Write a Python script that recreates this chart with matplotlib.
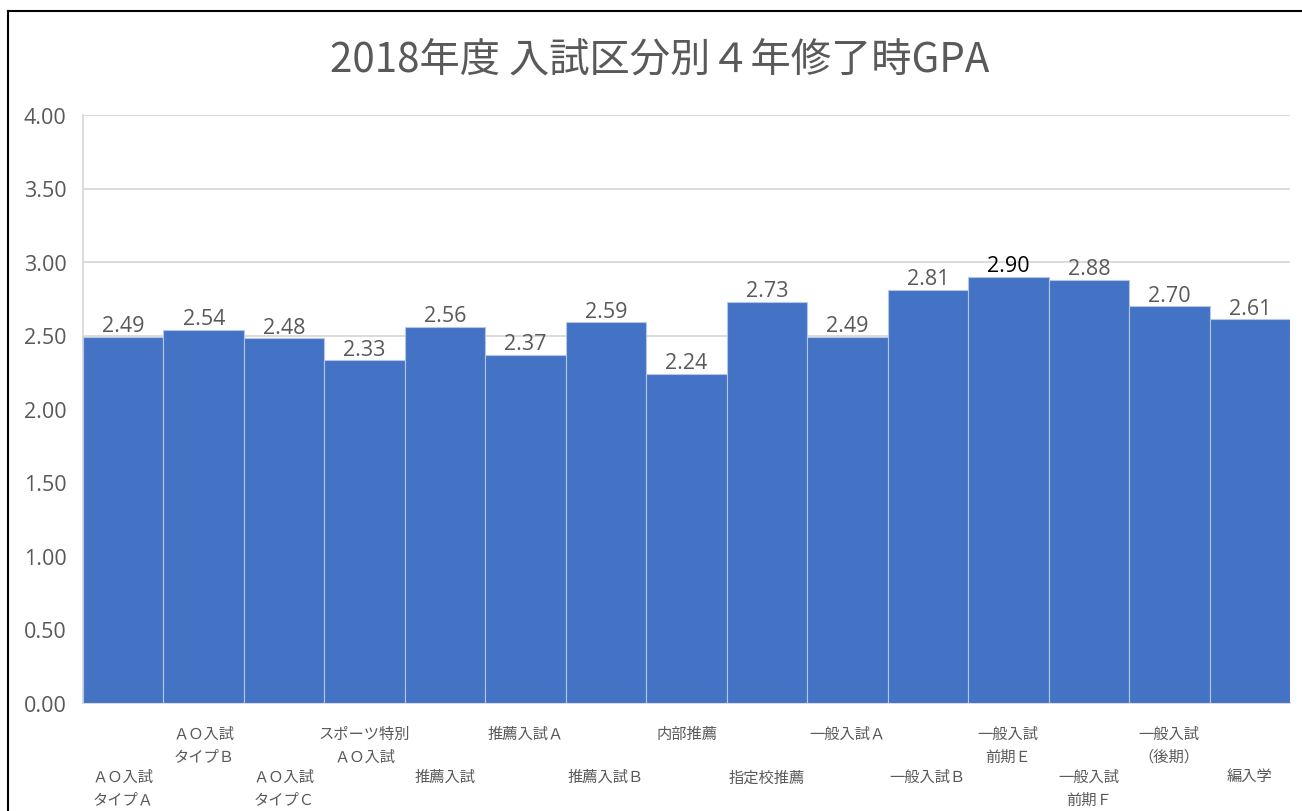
import matplotlib
matplotlib.use("Agg")
import matplotlib.pyplot as plt
from matplotlib.lines import Line2D

plt.rcParams['font.family'] = ['Open Sans', 'Noto Sans CJK JP', 'DejaVu Sans']

categories = [
    "ＡＯ入試\nタイプＡ", "ＡＯ入試\nタイプＢ", "ＡＯ入試\nタイプＣ",
    "スポーツ特別\nＡＯ入試", "推薦入試", "推薦入試Ａ", "推薦入試Ｂ",
    "内部推薦", "指定校推薦", "一般入試Ａ", "一般入試Ｂ",
    "一般入試\n前期Ｅ", "一般入試\n前期Ｆ", "一般入試\n（後期）", "編入学",
]
values = [2.49, 2.54, 2.48, 2.33, 2.56, 2.37, 2.59, 2.24, 2.73, 2.49,
          2.81, 2.90, 2.88, 2.70, 2.61]
yticks = [0.0, 0.5, 1.0, 1.5, 2.0, 2.5, 3.0, 3.5, 4.0]
title = "2018年度 入試区分別４年修了時GPA"

W, H = 1302, 812
fig = plt.figure(figsize=(W / 100, H / 100), dpi=100)
ax = fig.add_axes([83 / W, 1 - 704 / H, (1290 - 83) / W, (704 - 116) / H])

gray = '#595959'
x = list(range(len(values)))
ax.bar(x, values, width=1.0, color='#4472C4', edgecolor='#B4C7E7',
       linewidth=0.8, zorder=3)

ax.set_xlim(-0.5, len(values) - 0.5)
ax.set_ylim(0, 4.0)
ax.set_yticks(yticks)
ax.set_yticklabels([f"{v:.2f}" for v in yticks], fontsize=15.5, color=gray)
ax.tick_params(axis='y', length=0, pad=12)
ax.set_xticks([])
ax.grid(axis='y', color='#D9D9D9', linewidth=1.3, zorder=0)
for s in ['top', 'right']:
    ax.spines[s].set_visible(False)
ax.spines['left'].set_color('#D9D9D9')
ax.spines['left'].set_linewidth(1.3)
ax.spines['bottom'].set_color('#D9D9D9')
ax.spines['bottom'].set_linewidth(1.3)

# value labels
for i, v in enumerate(values):
    ax.annotate(f"{v:.2f}", xy=(i, v), xytext=(0, 4), textcoords='offset points',
                ha='center', va='baseline', fontsize=15.5,
                color='black' if i == 11 else gray, zorder=5)

# staggered category labels
for i, lab in enumerate(categories):
    off = -16 if i % 2 == 1 else -47
    ax.annotate(lab, xy=(i, 0), xycoords=('data', 'axes fraction'),
                xytext=(0, off), textcoords='offset points',
                ha='center', va='top', fontsize=11, color=gray,
                family=['Noto Sans CJK JP', 'DejaVu Sans'],
                multialignment='center', linespacing=1.4)

fig.text(660 / W, 1 - 60 / H, title, ha='center', va='center', fontsize=29,
         color=gray, family=['Noto Sans CJK JP', 'DejaVu Sans'])

# outer border (left and top)
fig.add_artist(Line2D([8 / W, 8 / W], [0, 1 - 12 / H], transform=fig.transFigure,
                      color='black', linewidth=1.5))
fig.add_artist(Line2D([8 / W, 1], [1 - 12 / H, 1 - 12 / H], transform=fig.transFigure,
                      color='black', linewidth=1.5))

fig.savefig("out.png", dpi=100, facecolor='white')
